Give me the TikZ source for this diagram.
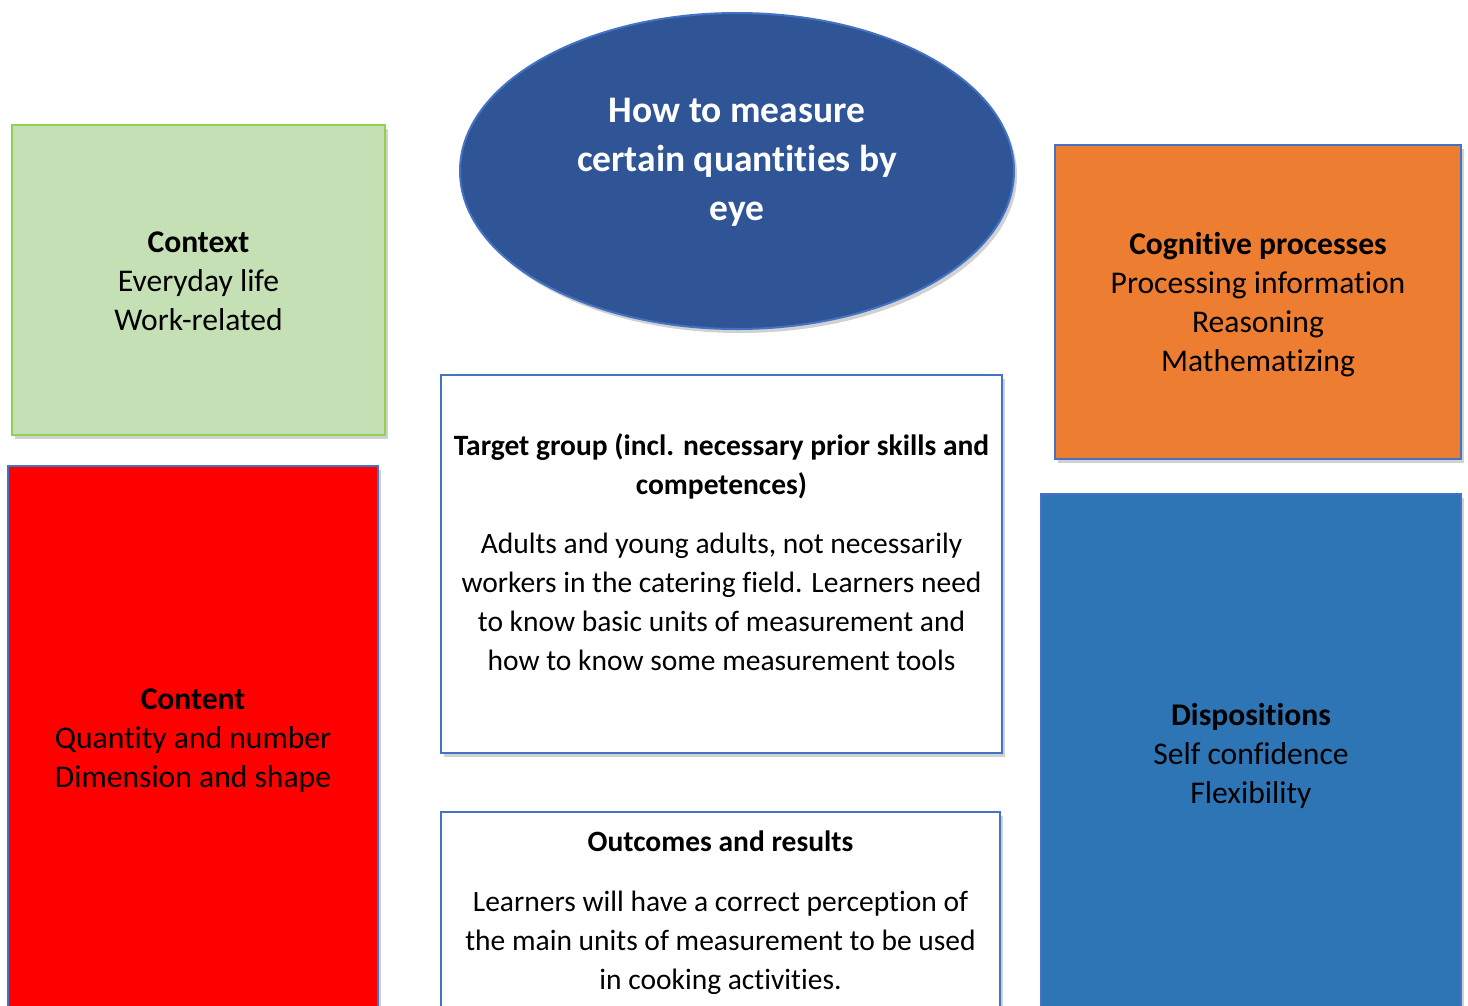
\documentclass[tikz,border=0pt]{standalone}
\usepackage{fontspec}
\setmainfont{Carlito}[Ligatures={NoCommon}]
\usetikzlibrary{shapes.geometric,shadows}
\definecolor{ctxfill}{HTML}{C5E0B4}
\definecolor{ctxline}{HTML}{92D050}
\definecolor{elfill}{HTML}{2F5597}
\definecolor{bline}{HTML}{4472C4}
\definecolor{orfill}{HTML}{ED7D31}
\definecolor{rdfill}{HTML}{FF0000}
\definecolor{blfill}{HTML}{2E75B6}
\tikzset{
  box/.style={draw=bline, line width=2pt, rectangle, inner sep=0pt,
    drop shadow={shadow xshift=3pt, shadow yshift=-4pt, fill=black, opacity=0.18}},
  txt/.style={align=center, inner sep=0pt, font=\fontsize{29.5}{39}\selectfont},
  ctxt/.style={align=center, inner sep=0pt, font=\fontsize{31.6}{39}\selectfont},
}
\begin{document}
\begin{tikzpicture}[x=1pt,y=-1pt]
\useasboundingbox (0,0) rectangle (1468,1005);
\clip (0,0) rectangle (1468,1005);
% Context
\node[box, draw=ctxline, fill=ctxfill, minimum width=373pt, minimum height=310pt] (context) at (198.5,280) {};
\node[ctxt] (contexttxt) at (198.5,281)
  {\textbf{Context}\\Everyday life\\Work-related};
% Ellipse
\node[ellipse, draw=bline, line width=2pt, fill=elfill, minimum width=554pt, minimum height=316pt, inner sep=0pt,
  drop shadow={shadow xshift=3pt, shadow yshift=-4pt, fill=black, opacity=0.18}] (title) at (737,171) {};
\node[txt, text=white, font=\bfseries\fontsize{37.5}{49}\selectfont] (titletxt) at (737,162)
  {How to measure\\certain quantities by\\eye};
% Cognitive processes
\node[box, fill=orfill, minimum width=406pt, minimum height=314pt] (cog) at (1258,302) {};
\node[ctxt] (cogtxt) at (1258,305)
  {\textbf{Cognitive processes}\\Processing information\\Reasoning\\Mathematizing};
% Target group
\node[box, fill=white, minimum width=561pt, minimum height=378pt] (target) at (721.5,564) {};
\node[txt, anchor=north] (targettxt) at (721.5,433)
  {\textbf{Target group (incl. necessary prior skills and}\\\textbf{competences)}\\[20pt]
   Adults and young adults, not necessarily\\workers in the catering field. Learners need\\to know basic units of measurement and\\how to know some measurement tools};
% Content
\node[box, fill=rdfill, minimum width=370pt, minimum height=544pt] (content) at (193,738) {};
\node[ctxt] (contenttxt) at (193,741)
  {\textbf{Content}\\Quantity and number\\Dimension and shape};
% Outcomes
\node[box, fill=white, minimum width=559pt, minimum height=240pt] (outcomes) at (720.5,932) {};
\node[txt, anchor=north] (outcomestxt) at (720.5,831)
  {\textbf{Outcomes and results}\\[21pt]
   Learners will have a correct perception of\\the main units of measurement to be used\\in cooking activities.};
% Dispositions
\node[box, fill=blfill, minimum width=420pt, minimum height=518pt] (disp) at (1251,753) {};
\node[ctxt] (disptxt) at (1251,756)
  {\textbf{Dispositions}\\Self confidence\\Flexibility};
\end{tikzpicture}
\end{document}
